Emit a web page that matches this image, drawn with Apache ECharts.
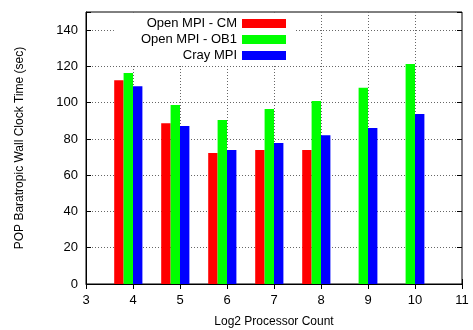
<!DOCTYPE html>
<html>
<head>
<meta charset="utf-8">
<script src="https://cdn.jsdelivr.net/npm/echarts@6/dist/echarts.min.js"></script>
<style>
  html, body { margin: 0; padding: 0; background: #fff; }
  #chart { width: 473px; height: 330px; }
</style>
</head>
<body>
<div id="chart"></div>
<script>
// log2 of processor count
const procLog2 = [4, 5, 6, 7, 8, 9, 10];
const seriesNames = ['Open MPI - CM', 'Open MPI - OB1', 'Cray MPI'];
// wall clock time (sec), null = no run
const openMpiCm = [112.4, 88.7, 72.2, 73.9, 73.9, null, null];
const openMpiOb1 = [116.3, 98.7, 90.4, 96.5, 100.9, 108.2, 121.3];
const crayMpi = [109.1, 87.1, 73.9, 77.7, 82.1, 86.0, 93.7];
const yTicks = [0, 20, 40, 60, 80, 100, 120, 140];

const colors = ['#ff0000', '#00ff00', '#0000ff'];
const offsets = [-0.3, -0.1, 0.1];
const barW = 0.2;
const font = 'Liberation Sans, Arial, Helvetica, sans-serif';

const chart = echarts.init(document.getElementById('chart'));

function makeSeries(name, values, idx) {
    return {
        name: name,
        type: 'custom',
        itemStyle: { color: colors[idx] },
        data: procLog2.map((x, i) => [x, values[i]]).filter(d => d[1] != null),
        encode: { x: 0, y: 1 },
        renderItem: function (params, api) {
            const x = api.value(0) + offsets[idx];
            const v = api.value(1);
            const p0 = api.coord([x - barW / 2, v]);
            const p1 = api.coord([x + barW / 2, 0]);
            return {
                type: 'rect',
                shape: { x: p0[0], y: p0[1], width: p1[0] - p0[0], height: p1[1] - p0[1] },
                style: { fill: colors[idx] }
            };
        },
        z: 3
    };
}

const gridLine = { color: '#666', type: [1, 2], width: 1 };

const option = {
    animation: false,
    textStyle: { fontFamily: font },
    grid: {
        left: 86, right: 11, top: 12, bottom: 46,
        outerBoundsMode: 'none', containLabel: false,
        show: true, borderColor: '#000', borderWidth: 1, backgroundColor: 'transparent'
    },
    legend: {
        data: seriesNames.map(n => ({ name: n, icon: 'rect' })),
        orient: 'vertical',
        align: 'right',
        right: 178,
        top: 13,
        itemWidth: 44,
        itemHeight: 9,
        itemGap: 1,
        itemTextGap: 12,
        backgroundColor: '#fff',
        padding: [3, 9, 3, 27],
        textStyle: { fontFamily: font, fontSize: 13, color: '#000', lineHeight: 15 },
        z: 4
    },
    xAxis: [{
        type: 'value',
        min: 3, max: 11, interval: 1,
        name: 'Log2 Processor Count',
        nameLocation: 'middle',
        nameGap: 32,
        nameTextStyle: { fontFamily: font, fontSize: 12, color: '#000' },
        axisLine: { show: true, onZero: false, lineStyle: { color: '#000' } },
        axisTick: { show: true, inside: true, length: 5, lineStyle: { color: '#000' } },
        axisLabel: { fontFamily: font, fontSize: 13, color: '#000', margin: 10 },
        splitLine: { show: true, lineStyle: gridLine, showMinLine: false, showMaxLine: false }
    }, {
        type: 'value', position: 'top',
        min: 3, max: 11, interval: 1,
        axisLine: { show: false },
        axisTick: { show: true, inside: true, length: 5, lineStyle: { color: '#000' } },
        axisLabel: { show: false },
        splitLine: { show: false }
    }],
    yAxis: [{
        type: 'value',
        min: 0, max: 150, interval: 20,
        name: 'POP Baratropic Wall Clock Time (sec)',
        nameLocation: 'middle',
        nameGap: 60,
        nameTextStyle: { fontFamily: font, fontSize: 12, color: '#000' },
        axisLine: { show: true, lineStyle: { color: '#000' } },
        axisTick: { show: true, inside: true, length: 5, lineStyle: { color: '#000' } },
        axisLabel: {
            fontFamily: font, fontSize: 13, color: '#000', margin: 8,
            formatter: v => (yTicks.indexOf(v) >= 0 ? String(v) : '')
        },
        splitLine: { show: true, lineStyle: gridLine, showMinLine: false, showMaxLine: false }
    }, {
        type: 'value', position: 'right',
        min: 0, max: 150, interval: 20,
        axisLine: { show: false },
        axisTick: { show: true, inside: true, length: 5, lineStyle: { color: '#000' } },
        axisLabel: { show: false },
        splitLine: { show: false }
    }],
    series: [
        makeSeries(seriesNames[0], openMpiCm, 0),
        makeSeries(seriesNames[1], openMpiOb1, 1),
        makeSeries(seriesNames[2], crayMpi, 2)
    ]
};

chart.setOption(option);
</script>
</body>
</html>
